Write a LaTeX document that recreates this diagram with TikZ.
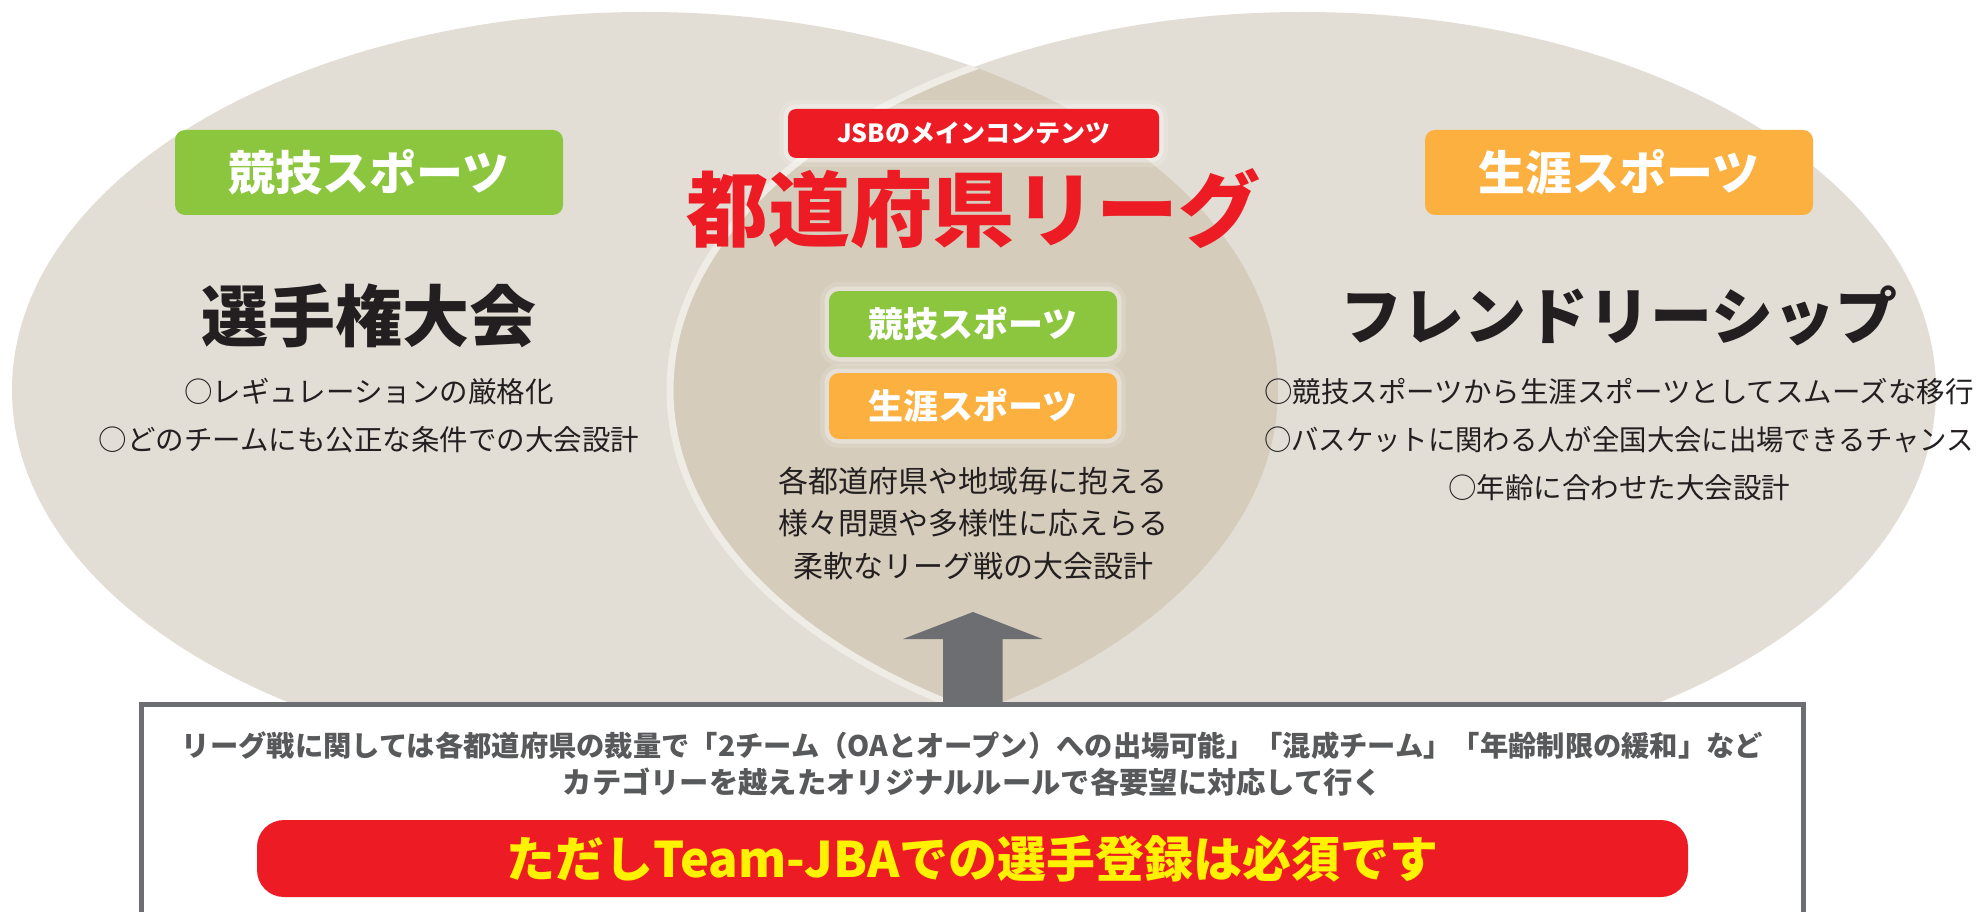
\documentclass[tikz,border=0pt]{standalone}
\usepackage{fontspec}
\newfontfamily\jp{Noto Sans CJK JP}
\definecolor{ellc}{HTML}{E3DED5}
\definecolor{lensc}{HTML}{D5CCBB}
\definecolor{arcc}{HTML}{EFECE5}
\definecolor{greenc}{HTML}{8CC63F}
\definecolor{orangec}{HTML}{FBB040}
\definecolor{redc}{HTML}{ED1C24}
\definecolor{yellowc}{HTML}{FFF200}
\definecolor{darkc}{HTML}{231F20}
\definecolor{boxc}{HTML}{6D6E71}
\definecolor{boxtextc}{HTML}{58595B}
\newcommand\jpfs[1]{\fontsize{#1pt}{#1pt}\selectfont}
\begin{document}
\begin{tikzpicture}[x=1pt,y=-1pt,
  txt/.style={inner sep=0pt, text=darkc},
  tagbox/.style={rounded corners=10pt, inner sep=0pt, text=white},
  glowbox/.style={preaction={draw=white, line width=18pt, opacity=0.12},
                  preaction={draw=white, line width=9pt, opacity=0.3}},
  bigsport/.style={tagbox, minimum width=388pt, minimum height=85pt, font={\jp\bfseries\jpfs{47}}},
  smallsport/.style={tagbox, glowbox, minimum width=288pt, minimum height=66pt, font={\jp\bfseries\jpfs{35}}},
  headline/.style={txt, font={\jp\bfseries\jpfs{67}}},
  bullet/.style={txt, font={\jp\jpfs{28.5}}},
  centerline/.style={txt, font={\jp\jpfs{30}}},
  titlestyle/.style={inner sep=0pt, text=redc, font={\jp\bfseries\jpfs{82}}},
  boxline/.style={inner sep=0pt, text=boxtextc, font={\jp\bfseries\jpfs{28.3}}}
]
\useasboundingbox (0,0) rectangle (1984,912);
\fill[white] (0,0) rectangle (1984,912);
% ellipses
\fill[ellc] (645,390) ellipse [x radius=633pt, y radius=378pt];
\fill[ellc] (1303,390) ellipse [x radius=633pt, y radius=378pt];
\begin{scope}
  \clip (645,390) ellipse [x radius=633pt, y radius=378pt];
  \fill[lensc] (1303,390) ellipse [x radius=633pt, y radius=378pt];
  \draw[arcc, line width=7pt] (1303,390) ellipse [x radius=633pt, y radius=378pt];
\end{scope}
% left side
\node[bigsport, fill=greenc] (lsport) at (369,172.5) {競技スポーツ};
\node[headline] (lhead) at (369,316) {選手権大会};
\node[bullet] (lb1) at (369,392) {○レギュレーションの厳格化};
\node[bullet] (lb2) at (369,440) {○どのチームにも公正な条件での大会設計};
% right side
\node[bigsport, fill=orangec] (rsport) at (1619,172.5) {生涯スポーツ};
\node[headline, font={\jp\bfseries\jpfs{62}}] (rhead) at (1619,316) {フレンドリーシップ};
\node[bullet] (rb1) at (1619,392) {○競技スポーツから生涯スポーツとしてスムーズな移行};
\node[bullet] (rb2) at (1619,440) {\scalebox{0.96}[1]{○バスケットに関わる人が全国大会に出場できるチャンス}};
\node[bullet] (rb3) at (1619,488) {○年齢に合わせた大会設計};
% center
\node[tagbox, glowbox, fill=redc, rounded corners=8pt, minimum width=371pt, minimum height=49pt,
      font={\jp\bfseries\jpfs{25}}] (jsb) at (973.5,133.5) {JSBのメインコンテンツ};
\node[titlestyle] (title) at (973,209) {都道府県リーグ};
\node[smallsport, fill=greenc] (csport) at (973,324) {競技スポーツ};
\node[smallsport, fill=orangec] (clife) at (973,406) {生涯スポーツ};
\node[centerline] (cl1) at (973,481) {各都道府県や地域毎に抱える};
\node[centerline] (cl2) at (973,523) {様々問題や多様性に応えらる};
\node[centerline] (cl3) at (973,566) {柔軟なリーグ戦の大会設計};
% bottom box
\node[draw=boxc, line width=5pt, fill=white, minimum width=1662pt, minimum height=260pt,
      inner sep=0pt] (infobox) at (972.5,834.5) {};
\coordinate (arrowtip) at (973,612);
\fill[boxc] (infobox.north) ++(-29.5,0) -- ++(0,-63) -- ++(-40,0) -- (arrowtip)
   -- ++(69.5,27) -- ++(-40,0) -- ++(0,63) -- cycle;
\node[boxline] (bl1) at (972.5,746) {リーグ戦に関しては各都道府県の裁量で「2チーム（OAとオープン）への出場可能」「混成チーム」「年齢制限の緩和」など};
\node[boxline, font={\jp\bfseries\jpfs{29.3}}] (bl2) at (972.5,782) {カテゴリーを越えたオリジナルルールで各要望に対応して行く};
\node[fill=redc, rounded corners=27pt, minimum width=1431pt, minimum height=77pt, inner sep=0pt,
      text=yellowc, font={\jp\bfseries\jpfs{49}}] (mustbar) at (972.5,858.5) {ただしTeam-JBAでの選手登録は必須です};
\end{tikzpicture}
\end{document}
